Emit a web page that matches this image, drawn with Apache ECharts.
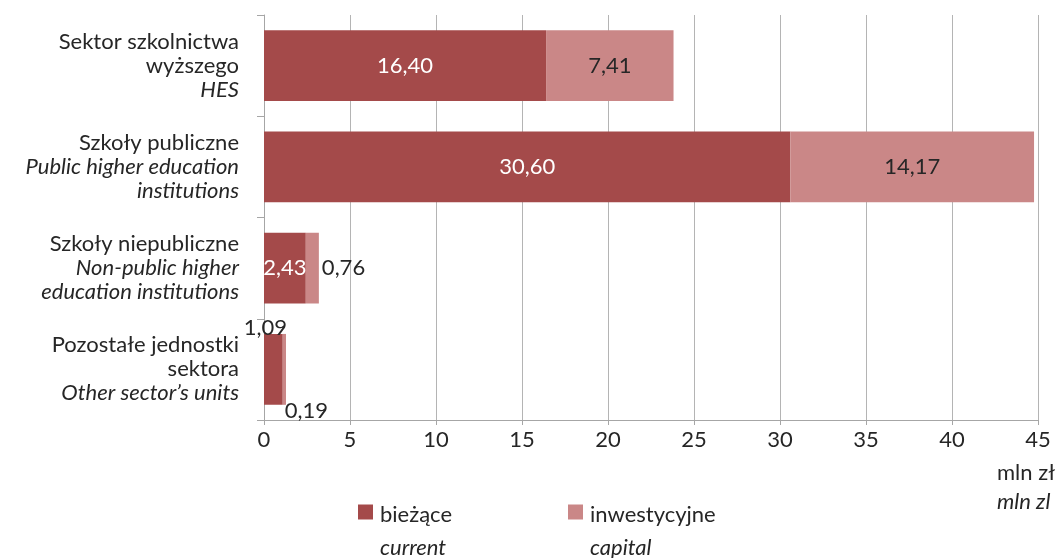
<!DOCTYPE html>
<html>
<head>
<meta charset="utf-8">
<script src="https://cdn.jsdelivr.net/npm/echarts@6/dist/echarts.min.js"></script>
<style>
  html, body { margin: 0; padding: 0; background: #fff; }
  #chart { width: 1058px; height: 558px; }
</style>
</head>
<body>
<div id="chart"></div>
<script>
// categories (Polish / English lines)
const categoriesPl = ['Sektor szkolnictwa\nwyższego', 'Szkoły publiczne', 'Szkoły niepubliczne', 'Pozostałe jednostki\nsektora']
const categoriesEn = ['HES', 'Public higher education\ninstitutions', 'Non-public higher\neducation institutions', 'Other sector’s units']
const seriesNamesPl = ['bieżące', 'inwestycyjne']
const seriesNamesEn = ['current', 'capital']
const currentValues = [16.40, 30.60, 2.43, 1.09]
const capitalValues = [7.41, 14.17, 0.76, 0.19]
const xTicks = { min: 0, max: 45, interval: 5 }

const FONT = 'Lato'
const FS = 22
const TXT = '#262626'
const colors = ['#a44a4a', '#ca8787']

const fmtNum = v => v.toFixed(2).replace('.', ',')

// label tweaks for the small bars
const currentLabels = [null, null, null, { position: 'top', distance: 0, offset: [-8, 5], color: TXT }]
const capitalLabels = [null, null, { position: 'right', distance: 3 }, { position: 'bottom', distance: 0, offset: [22, -5] }]

const chart = echarts.init(document.getElementById('chart'))

// empty first line keeps the square level with the first text line
const legendRich = {
  s: { fontSize: FS, lineHeight: 42, width: 168, fontFamily: FONT },
  a: { fontSize: FS, lineHeight: 30, width: 168, color: TXT, fontFamily: FONT, padding: [0, 0, 0, 2] },
  b: { fontSize: FS, lineHeight: 36, width: 168, color: TXT, fontStyle: 'italic', fontFamily: FONT, padding: [0, 0, 0, 2] },
}

chart.setOption({
  animation: false,
  textStyle: { fontFamily: FONT },
  grid: { left: 264, right: 20, top: 15, bottom: 138 },
  legend: {
    left: 358,
    top: 468,
    padding: 0,
    itemWidth: 15,
    itemHeight: 15,
    itemGap: 20,
    icon: 'rect',
    data: seriesNamesPl,
    formatter: name => {
      const i = seriesNamesPl.indexOf(name)
      return '{s| }\n{a|' + name + '}\n{b|' + seriesNamesEn[i] + '}'
    },
    textStyle: { rich: legendRich },
  },
  xAxis: {
    type: 'value',
    min: xTicks.min,
    max: xTicks.max,
    interval: xTicks.interval,
    axisLine: { show: true, lineStyle: { color: '#a6a6a6' } },
    axisTick: { show: true, length: 5, lineStyle: { color: '#a6a6a6' } },
    splitLine: { lineStyle: { color: '#b4b4b4' } },
    axisLabel: { fontSize: FS, color: TXT, margin: 9, fontFamily: FONT },
  },
  yAxis: {
    type: 'category',
    inverse: true,
    data: categoriesPl,
    axisLine: { show: true, lineStyle: { color: '#a6a6a6' } },
    axisTick: { show: true, length: 7, lineStyle: { color: '#a6a6a6' } },
    axisLabel: {
      margin: 25,
      align: 'right',
      formatter: (val, idx) => {
        const pl = val.split('\n').map(l => '{a|' + l + '}')
        const en = categoriesEn[idx].split('\n').map(l => '{b|' + l + '}')
        return pl.concat(en).join('\n')
      },
      rich: {
        a: { fontSize: FS, lineHeight: 24, color: TXT, fontFamily: FONT, align: 'right' },
        b: { fontSize: FS, lineHeight: 24, color: TXT, fontStyle: 'italic', fontFamily: FONT, align: 'right' },
      },
    },
  },
  graphic: [
    { type: 'text', left: 997, top: 462, style: { text: 'mln zł', font: FS + 'px ' + FONT, fill: TXT } },
    { type: 'text', left: 997, top: 491, style: { text: 'mln zl', font: 'italic ' + FS + 'px ' + FONT, fill: TXT } },
  ],
  series: [
    {
      name: seriesNamesPl[0],
      type: 'bar',
      stack: 'total',
      barWidth: '70%',
      itemStyle: { color: colors[0] },
      label: { show: true, position: 'inside', color: '#fff', fontSize: FS, fontFamily: FONT, formatter: p => fmtNum(p.value) },
      data: currentValues.map((v, i) => (currentLabels[i] ? { value: v, label: currentLabels[i] } : v)),
    },
    {
      name: seriesNamesPl[1],
      type: 'bar',
      stack: 'total',
      barWidth: '70%',
      itemStyle: { color: colors[1] },
      label: { show: true, position: 'inside', color: TXT, fontSize: FS, fontFamily: FONT, formatter: p => fmtNum(p.value) },
      data: capitalValues.map((v, i) => (capitalLabels[i] ? { value: v, label: capitalLabels[i] } : v)),
    },
  ],
})
</script>
</body>
</html>
